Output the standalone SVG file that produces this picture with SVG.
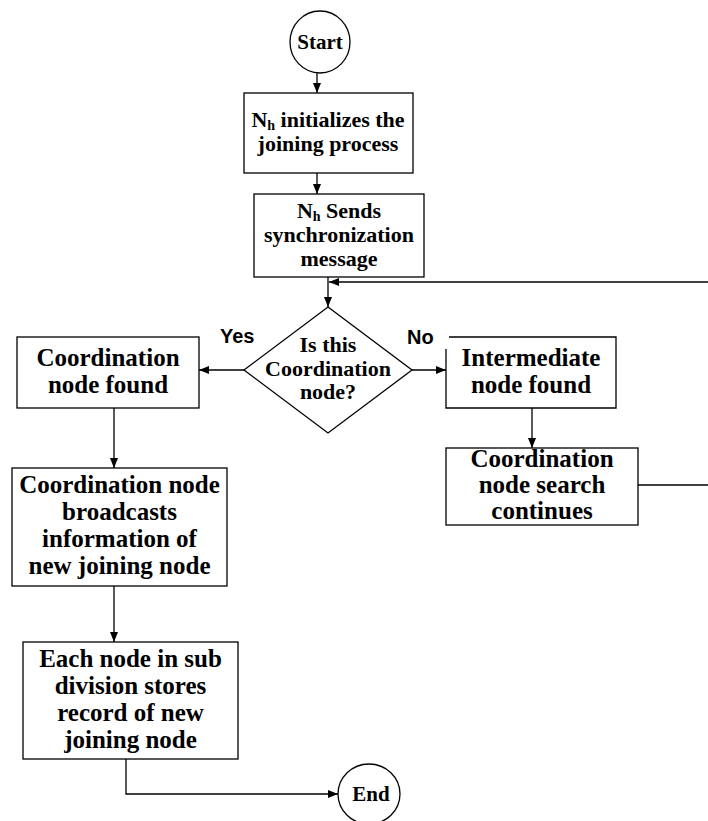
<svg xmlns="http://www.w3.org/2000/svg" width="708" height="821" viewBox="0 0 708 821">
<defs>
<marker id="ah" viewBox="0 0 10 8" refX="10" refY="4" markerWidth="10" markerHeight="8" markerUnits="userSpaceOnUse" orient="auto">
<path d="M0,0 L10,4 L0,8 Z" fill="#000"/>
</marker>
</defs>
<style>
.s{fill:#fff;stroke:#000;stroke-width:1.3}
.c{fill:none;stroke:#000;stroke-width:1.3}
.t{font-family:"Liberation Serif","Times New Roman",serif;font-weight:bold;fill:#000;text-anchor:middle}
.t22{font-size:22px}
.t25{font-size:25px}
.lab{font-family:"Liberation Sans",Arial,sans-serif;font-weight:bold;font-size:20px;fill:#000}
</style>
<rect width="708" height="821" fill="#fff"/>
<g id="connectors">
<line class="c" x1="317" y1="73" x2="317" y2="93" marker-end="url(#ah)"/>
<line class="c" x1="317" y1="173" x2="317" y2="194" marker-end="url(#ah)"/>
<line class="c" x1="328" y1="277" x2="328" y2="307" marker-end="url(#ah)"/>
<line class="c" x1="708" y1="282" x2="329" y2="282" marker-end="url(#ah)"/>
<line class="c" x1="244" y1="370" x2="199" y2="370" marker-end="url(#ah)"/>
<line class="c" x1="412" y1="370" x2="446" y2="370" marker-end="url(#ah)"/>
<line class="c" x1="532" y1="408" x2="532" y2="448" marker-end="url(#ah)"/>
<line class="c" x1="638" y1="485" x2="708" y2="485"/>
<line class="c" x1="114" y1="408" x2="114" y2="468" marker-end="url(#ah)"/>
<line class="c" x1="114" y1="586" x2="114" y2="642" marker-end="url(#ah)"/>
<polyline class="c" points="126,759 126,794 338,794" marker-end="url(#ah)"/>
</g>
<g id="start">
<ellipse class="s" cx="320" cy="42" rx="30" ry="31"/>
<text class="t" x="320" y="49" font-size="21">Start</text>
</g>
<g id="init">
<rect class="s" x="244" y="93" width="169" height="80"/>
<text class="t t22" x="328" y="127">N<tspan font-size="14" baseline-shift="-3">h</tspan> initializes the</text>
<text class="t t22" x="328" y="151">joining process</text>
</g>
<g id="sync">
<rect class="s" x="254" y="194" width="170" height="83"/>
<text class="t t22" x="339" y="218">N<tspan font-size="14" baseline-shift="-3">h</tspan> Sends</text>
<text class="t t22" x="339" y="242">synchronization</text>
<text class="t t22" x="339" y="266">message</text>
</g>
<g id="decision">
<polygon class="s" points="328,307 412,370 328,433 244,370"/>
<text class="t t22" x="328" y="352">Is this</text>
<text class="t t22" x="328" y="376">Coordination</text>
<text class="t t22" x="328" y="399">node?</text>
</g>
<g id="label-yes"><text class="lab" x="220" y="343">Yes</text></g>
<g id="label-no"><text class="lab" x="407" y="344">No</text></g>
<g id="coord-found">
<rect class="s" x="17" y="337" width="182" height="71"/>
<text class="t t25" x="108" y="366">Coordination</text>
<text class="t t25" x="108" y="393">node found</text>
</g>
<g id="inter-found">
<rect x="446" y="337" width="170" height="71" fill="#fff"/>
<path class="c" d="M449,337 H616 V408 H446 V349"/>
<text class="t t25" x="531" y="366">Intermediate</text>
<text class="t t25" x="531" y="393">node found</text>
</g>
<g id="search">
<rect class="s" x="446" y="448" width="192" height="77"/>
<text class="t t25" x="542" y="467">Coordination</text>
<text class="t t25" x="542" y="493">node search</text>
<text class="t t25" x="542" y="519">continues</text>
</g>
<g id="broadcast">
<rect class="s" x="12" y="468" width="215" height="118"/>
<text class="t t25" x="119.5" y="493">Coordination node</text>
<text class="t t25" x="119.5" y="520">broadcasts</text>
<text class="t t25" x="119.5" y="547">information of</text>
<text class="t t25" x="119.5" y="574">new joining node</text>
</g>
<g id="store">
<rect class="s" x="23" y="642" width="215" height="117"/>
<text class="t t25" x="130.5" y="667">Each node in sub</text>
<text class="t t25" x="130.5" y="694">division stores</text>
<text class="t t25" x="130.5" y="721">record of new</text>
<text class="t t25" x="130.5" y="748">joining node</text>
</g>
<g id="end">
<ellipse class="s" cx="369" cy="794" rx="31" ry="30"/>
<text class="t" x="371" y="801" font-size="21">End</text>
</g>
</svg>
